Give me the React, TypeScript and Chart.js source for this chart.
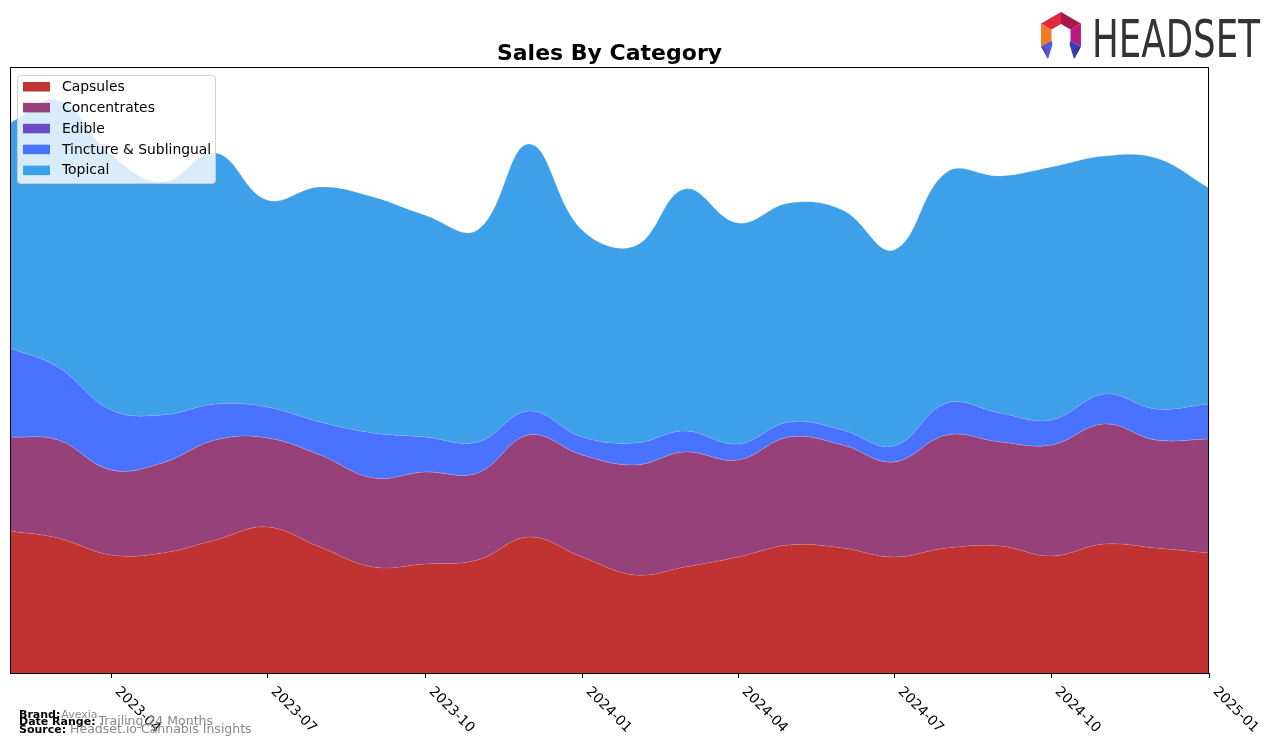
import React, { useEffect, useRef } from 'react';
import { Chart, registerables } from 'chart.js';

Chart.register(...registerables);

const months = [
  '2023-02', '2023-03', '2023-04', '2023-05', '2023-06', '2023-07', '2023-08', '2023-09',
  '2023-10', '2023-11', '2023-12', '2024-01', '2024-02', '2024-03', '2024-04', '2024-05',
  '2024-06', '2024-07', '2024-08', '2024-09', '2024-10', '2024-11', '2024-12', '2025-01',
];
const tickLabels = ['2023-04', '2023-07', '2023-10', '2024-01', '2024-04', '2024-07', '2024-10', '2025-01'];
const categories = ['Capsules', 'Concentrates', 'Edible', 'Tincture & Sublingual', 'Topical'];

const capsules = [142, 135, 118, 120, 133, 146, 126, 106, 109, 113, 136, 116, 98, 106, 116, 128, 125, 116, 125, 127, 117, 129, 125, 120];
const concentrates = [94, 98, 85, 90, 100, 89, 92, 89, 92, 87, 102, 102, 110, 115, 97, 108, 103, 95, 113, 104, 111, 120, 108, 114];
const edible = [0, 0, 0, 0, 0, 0, 0, 0, 0, 0, 0, 0, 0, 0, 0, 0, 0, 0, 0, 0, 0, 0, 0, 0];
const tincture = [89, 73, 60, 48, 36, 31, 33, 45, 35, 31, 24, 18, 22, 21, 16, 15, 15, 16, 32, 29, 25, 30, 31, 35];
const topical = [225, 267, 255, 233, 251, 207, 235, 236, 222, 212, 267, 207, 197, 242, 221, 219, 220, 196, 231, 237, 253, 238, 251, 216];

const colors = ['#C13232', '#96417A', '#6A4BC4', '#4872FF', '#3EA0E8'];

const FONT = '"DejaVu Sans", sans-serif';

// days since first month (time-proportional x positions)
const dayOf = (m: string) => {
  const [y, mo] = m.split('-').map(Number);
  const [y0, m0] = months[0].split('-').map(Number);
  return (Date.UTC(y, mo - 1, 1) - Date.UTC(y0, m0 - 1, 1)) / 86400000;
};

function drawLogo(ctx: CanvasRenderingContext2D) {
  const cx = 1061, cy = 35, Ro = 23, Ri = 11;
  const P = (r: number, deg: number): [number, number] => [cx + r * Math.cos((deg * Math.PI) / 180), cy + r * Math.sin((deg * Math.PI) / 180)];
  const poly = (pts: [number, number][], color: string) => {
    ctx.beginPath();
    ctx.moveTo(pts[0][0], pts[0][1]);
    for (let i = 1; i < pts.length; i++) ctx.lineTo(pts[i][0], pts[i][1]);
    ctx.closePath();
    ctx.fillStyle = color;
    ctx.fill();
  };
  const seg = (a: number, b: number, color: string) => poly([P(Ro, a), P(Ro, b), P(Ri, b), P(Ri, a)], color);
  seg(150, 210, '#F47B20');
  seg(210, 270, '#E0283C');
  seg(270, 330, '#A8184A');
  seg(330, 390, '#B8197F');
  const lo = P(Ro, 150), li = P(Ri, 150);
  poly([lo, li, [li[0] + 1, li[1] + 4], [1048, 59]], '#5A55D0');
  poly([lo, [lo[0] + 4, lo[1] + 2], [1048, 59]], '#4046B8');
  const ro = P(Ro, 30), ri = P(Ri, 30);
  poly([ro, ri, [ri[0] - 1, ri[1] + 4], [1074, 59]], '#3C3FB0');
  poly([ro, [ro[0] - 4, ro[1] + 2], [1074, 59]], '#2E2F95');

  ctx.save();
  ctx.font = `51px ${FONT}`;
  const w = ctx.measureText('HEADSET').width;
  ctx.translate(1092, 57);
  ctx.scale(168 / w, 1);
  ctx.fillStyle = '#333333';
  ctx.textAlign = 'left';
  ctx.textBaseline = 'alphabetic';
  ctx.fillText('HEADSET', 0, 0);
  ctx.restore();
}

const overlay = {
  id: 'overlay',
  afterDraw(chart: any) {
    const ctx: CanvasRenderingContext2D = chart.ctx;
    const { left, right, top, bottom } = chart.chartArea;
    const xs = chart.scales.x;
    ctx.save();

    // legend
    ctx.beginPath();
    (ctx as any).roundRect(17.5, 75.5, 198, 108, 3);
    ctx.fillStyle = 'rgba(255,255,255,0.8)';
    ctx.fill();
    ctx.strokeStyle = 'rgba(204,204,204,0.9)';
    ctx.lineWidth = 1;
    ctx.stroke();
    ctx.font = `13.9px ${FONT}`;
    ctx.textBaseline = 'middle';
    ctx.textAlign = 'left';
    categories.forEach((name, i) => {
      const cyy = 86.7 + i * 20.9;
      ctx.fillStyle = colors[i];
      ctx.fillRect(23, cyy - 4.7, 27, 9.5);
      ctx.fillStyle = '#000';
      ctx.fillText(name, 62, cyy + 0.5);
    });

    // frame
    ctx.strokeStyle = '#000';
    ctx.lineWidth = 1;
    ctx.strokeRect(Math.round(left) + 0.5, Math.round(top) - 0.5, Math.round(right - left) - 1, Math.round(bottom - top) + 1);

    // ticks + labels
    ctx.font = `13.9px ${FONT}`;
    ctx.textAlign = 'left';
    ctx.textBaseline = 'alphabetic';
    tickLabels.forEach((lab) => {
      const px = Math.round(xs.getPixelForValue(dayOf(lab))) + 0.5;
      ctx.beginPath();
      ctx.moveTo(px, bottom);
      ctx.lineTo(px, bottom + 5);
      ctx.strokeStyle = '#000';
      ctx.stroke();
      ctx.save();
      ctx.translate(px + 3, bottom + 19);
      ctx.rotate(Math.PI / 4);
      ctx.fillStyle = '#000';
      ctx.fillText(lab, 0, 0);
      ctx.restore();
    });

    // title
    ctx.font = `bold 22px ${FONT}`;
    ctx.textAlign = 'center';
    ctx.fillStyle = '#000';
    ctx.fillText('Sales By Category', (left + right) / 2, 60);

    // footer
    ctx.textAlign = 'left';
    const foot: [string, string, number, number, number][] = [
      ['Brand:', 'Avexia', 718, 11, 1],
      ['Date Range:', 'Trailing 24 Months', 725, 12.5, 3],
      ['Source:', 'Headset.io Cannabis Insights', 733, 12.5, 4],
    ];
    foot.forEach(([k, v, y, vs, gap]) => {
      ctx.font = `bold 11px ${FONT}`;
      ctx.fillStyle = '#000';
      ctx.fillText(k, 19, y);
      const kw = ctx.measureText(k).width;
      ctx.font = `${vs}px ${FONT}`;
      ctx.fillStyle = '#888888';
      ctx.fillText(v, 19 + kw + gap, y);
    });

    drawLogo(ctx);
    ctx.restore();
  },
};

export default function App() {
  const ref = useRef<HTMLCanvasElement>(null);
  useEffect(() => {
    const canvas = ref.current;
    if (!canvas) return;
    const series = [capsules, concentrates, edible, tincture, topical];
    const chart = new Chart(canvas, {
      type: 'line',
      data: {
        datasets: categories.map((name, i) => ({
          label: name,
          data: series[i].map((v, j) => ({ x: dayOf(months[j]), y: v })),
          backgroundColor: colors[i],
          borderColor: 'rgba(255,255,255,0.18)',
          borderWidth: 0.8,
          fill: i === 0 ? 'origin' : '-1',
          pointRadius: 0,
          tension: 0.4,
        })),
      },
      options: {
        responsive: false,
        animation: false,
        devicePixelRatio: 1,
        events: [],
        layout: { padding: { left: 10, top: 68, right: 67, bottom: 74 } },
        scales: {
          x: { type: 'linear', display: false, offset: false, min: dayOf(months[0]), max: dayOf(months[months.length - 1]) },
          y: { display: false, stacked: true, min: 0, max: 605 },
        },
        plugins: {
          legend: { display: false },
          title: { display: false },
          tooltip: { enabled: false },
        },
      },
      plugins: [overlay],
    } as any);
    return () => chart.destroy();
  }, []);
  return (
    <div style={{ position: 'absolute', left: 0, top: 0, width: 1276, height: 747, background: '#fff' }}>
      <canvas ref={ref} width={1276} height={747} style={{ display: 'block', width: 1276, height: 747 }} />
    </div>
  );
}
